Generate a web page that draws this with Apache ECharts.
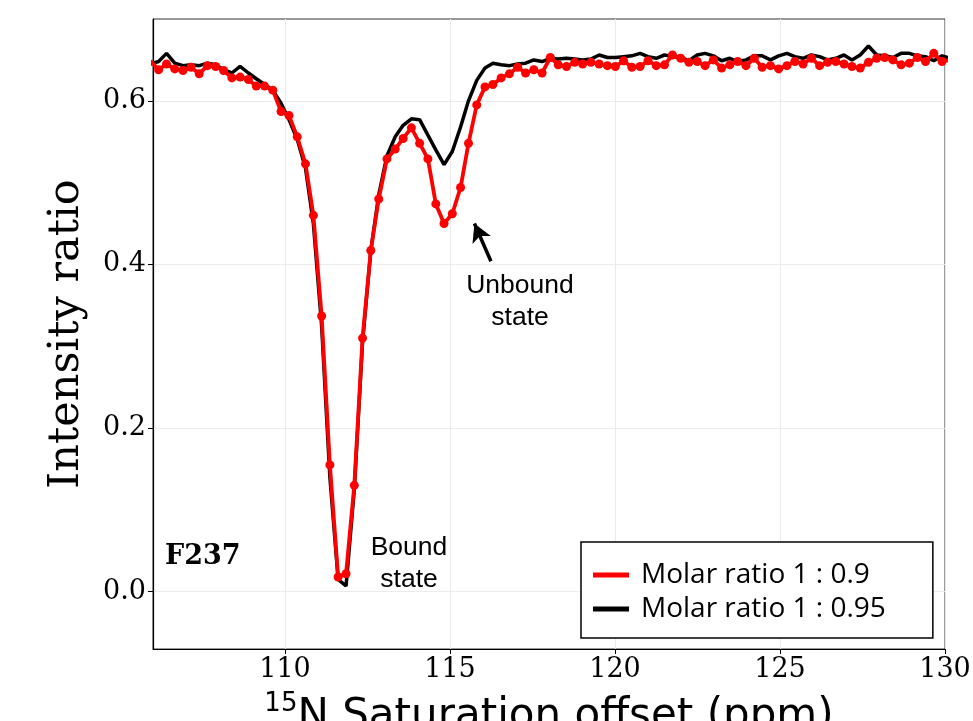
<!DOCTYPE html>
<html><head><meta charset="utf-8">
<script src="https://cdn.jsdelivr.net/npm/echarts@6.0.0/dist/echarts.min.js"></script>
<style>html,body{margin:0;padding:0;background:#fff}#c{width:973px;height:721px}</style>
</head><body><div id="c"></div>
<script>
// 15N saturation offset (ppm)
const offsetPpm = [
105.92,106.17,106.41,106.66,106.91,107.15,107.40,107.65,107.90,108.14,
108.39,108.64,108.89,109.13,109.38,109.63,109.88,110.12,110.37,110.62,
110.86,111.11,111.36,111.61,111.85,112.10,112.35,112.60,112.84,113.09,
113.34,113.58,113.83,114.08,114.33,114.57,114.82,115.07,115.32,115.56,
115.81,116.06,116.30,116.55,116.80,117.05,117.29,117.54,117.79,118.04,
118.28,118.53,118.78,119.02,119.27,119.52,119.77,120.01,120.26,120.51,
120.76,121.00,121.25,121.50,121.74,121.99,122.24,122.49,122.73,122.98,
123.23,123.48,123.72,123.97,124.22,124.46,124.71,124.96,125.21,125.45,
125.70,125.95,126.20,126.44,126.69,126.94,127.18,127.43,127.68,127.93,
128.17,128.42,128.67,128.92,129.16,129.41,129.66,129.91,130.15
];
// Molar ratio 1 : 0.9 (red)
const ratio09 = [
0.649,0.638,0.645,0.639,0.637,0.641,0.633,0.643,0.642,0.637,
0.628,0.629,0.626,0.618,0.618,0.613,0.587,0.582,0.556,0.523,
0.460,0.337,0.155,0.018,0.022,0.130,0.310,0.417,0.480,0.529,
0.541,0.554,0.567,0.548,0.529,0.474,0.450,0.462,0.494,0.548,
0.595,0.617,0.620,0.628,0.633,0.641,0.634,0.638,0.634,0.653,
0.644,0.642,0.647,0.645,0.647,0.645,0.643,0.642,0.649,0.641,
0.642,0.649,0.643,0.644,0.656,0.652,0.647,0.648,0.643,0.650,
0.640,0.644,0.648,0.643,0.652,0.641,0.643,0.639,0.643,0.648,
0.645,0.652,0.643,0.647,0.648,0.645,0.642,0.640,0.647,0.652,
0.653,0.650,0.644,0.646,0.653,0.648,0.658,0.648,0.650
];
// Molar ratio 1 : 0.95 (black)
const ratio095 = [
0.645,0.648,0.658,0.646,0.643,0.644,0.643,0.646,0.644,0.638,
0.634,0.642,0.634,0.627,0.620,0.613,0.597,0.577,0.553,0.518,
0.450,0.325,0.140,0.015,0.007,0.125,0.305,0.417,0.485,0.533,
0.556,0.570,0.578,0.577,0.558,0.540,0.522,0.538,0.568,0.600,
0.625,0.640,0.646,0.644,0.643,0.645,0.646,0.650,0.648,0.652,
0.651,0.652,0.651,0.650,0.651,0.656,0.653,0.653,0.654,0.655,
0.658,0.654,0.652,0.656,0.654,0.653,0.649,0.656,0.658,0.655,
0.649,0.652,0.648,0.650,0.655,0.655,0.650,0.655,0.658,0.654,
0.652,0.656,0.654,0.650,0.652,0.656,0.650,0.656,0.667,0.656,
0.655,0.653,0.658,0.658,0.655,0.654,0.649,0.655,0.652
];
const seriesNames = ['Molar ratio 1 : 0.9', 'Molar ratio 1 : 0.95'];
const xTicks = [110, 115, 120, 125, 130];
const yTicks = [0, 0.2, 0.4, 0.6];
const arrowFrom = [116.24, 0.404];
const arrowTo = [115.74, 0.450];

const pair = (xs, ys) => xs.map((x, i) => [x, ys[i]]);
const serif = 'DejaVu Serif';

const chart = echarts.init(document.getElementById('c'), null, {renderer: 'canvas'});
chart.setOption({
  animation: false,
  backgroundColor: '#ffffff',
  grid: {left: 153, right: 28, top: 19, bottom: 72, outerBoundsMode: 'none', containLabel: false,
    show: true, borderColor: '#333', borderWidth: 1, backgroundColor: 'transparent'},
  xAxis: {
    type: 'value', min: 106, max: 130,
    name: '{sup|15}{n|N Saturation offset (ppm)}',
    nameLocation: 'middle', nameGap: 42,
    nameTextStyle: {
      rich: {
        sup: {fontFamily: 'DejaVu Sans', fontSize: 26, color: '#000', padding: [0, 0, 26, 0]},
        n: {fontFamily: 'DejaVu Sans', fontSize: 42, color: '#000'}
      }
    },
    axisLine: {show: true, onZero: false, lineStyle: {color: '#000', width: 1.2}},
    axisTick: {show: true, customValues: xTicks, length: 5, lineStyle: {color: '#000'}},
    axisLabel: {customValues: xTicks, fontFamily: serif, fontSize: 27, color: '#000', margin: 7},
    splitLine: {show: true, lineStyle: {color: '#ebebeb', width: 1}}
  },
  yAxis: [{
    type: 'value', min: -0.07, max: 0.7,
    name: 'Intensity ratio', nameLocation: 'middle', nameGap: 65,
    nameTextStyle: {fontFamily: serif, fontSize: 43, color: '#000'},
    axisLine: {show: true, onZero: false, lineStyle: {color: '#000', width: 1.2}},
    axisTick: {show: true, customValues: yTicks, length: 5, lineStyle: {color: '#000'}},
    axisLabel: {customValues: yTicks, fontFamily: serif, fontSize: 27, color: '#000', margin: 7,
      formatter: v => v.toFixed(1)},
    splitLine: {show: true, lineStyle: {color: '#ebebeb', width: 1}}
  }],
  legend: {
    data: [{name: seriesNames[0], icon: 'rect'}, {name: seriesNames[1], icon: 'rect'}],
    orient: 'vertical', left: 581, top: 542,
    itemWidth: 36, itemHeight: 5, itemGap: 0,
    padding: [16, 47, 12, 12],
    backgroundColor: '#fff', borderColor: '#000', borderWidth: 1.5, borderRadius: 0,
    textStyle: {fontFamily: 'Open Sans', fontSize: 28, lineHeight: 34, color: '#000', padding: [0, 0, 0, 7]}
  },
  series: [
    {
      name: seriesNames[1], type: 'line', data: pair(offsetPpm, ratio095),
      showSymbol: false, symbol: 'none', clip: true,
      lineStyle: {color: '#000', width: 3.5}, itemStyle: {color: '#000'}, z: 2
    },
    {
      name: seriesNames[0], type: 'line', data: pair(offsetPpm, ratio09),
      symbol: 'circle', symbolSize: 9, showAllSymbol: true, clip: true,
      lineStyle: {color: '#ff0000', width: 3.8}, itemStyle: {color: '#ff0000'}, z: 3,
      markLine: {
        silent: true, symbol: ['none', 'arrow'], symbolSize: [15, 18], animation: false,
        label: {show: false},
        lineStyle: {color: '#000', width: 3.5, type: 'solid'},
        data: [[{coord: arrowFrom}, {coord: arrowTo}]]
      }
    }
  ],
  graphic: [
    {type: 'text', x: 165, y: 543, style: {text: 'F237', font: 'bold 27px "DejaVu Serif"', fill: '#000'}},
    {type: 'text', x: 409, y: 532, style: {text: 'Bound\nstate', font: '26.5px "Liberation Sans"', fill: '#000', align: 'center', lineHeight: 32}},
    {type: 'text', x: 520, y: 270, style: {text: 'Unbound\nstate', font: '26.5px "Liberation Sans"', fill: '#000', align: 'center', lineHeight: 32}}
  ]
});
</script>
</body></html>
